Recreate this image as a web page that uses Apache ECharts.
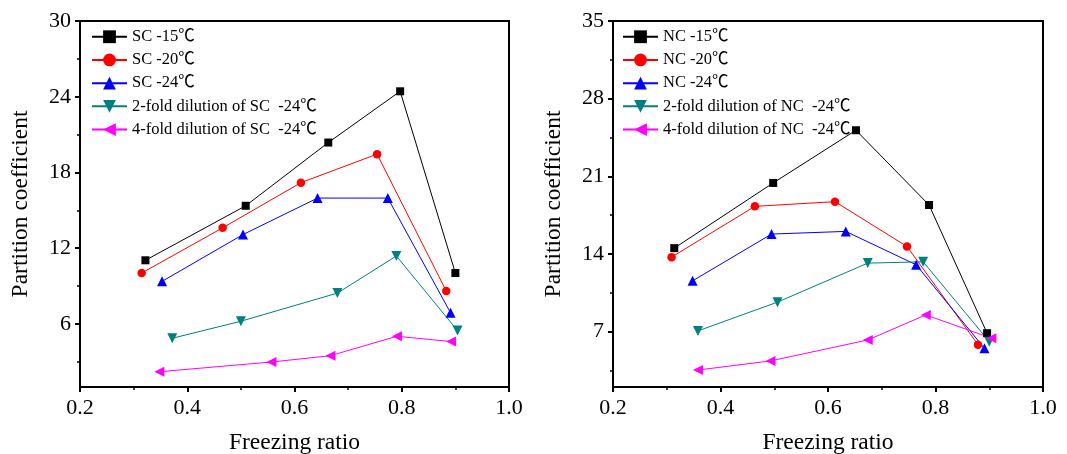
<!DOCTYPE html>
<html>
<head>
<meta charset="utf-8">
<script src="https://cdn.jsdelivr.net/npm/echarts@6/dist/echarts.min.js"></script>
<style>
html,body{margin:0;padding:0;background:#fff;}
#chart{width:1067px;height:454px;}
</style>
</head>
<body>
<div id="chart"></div>
<script>
// ---- data ----
const xTickLabels = [0.2, 0.4, 0.6, 0.8, 1.0];
const scYTicks = [6, 12, 18, 24, 30];
const scYMinor = [3, 9, 15, 21, 27];
const ncYTicks = [7, 14, 21, 28, 35];
const ncYMinor = [3.5, 10.5, 17.5, 24.5, 31.5];

const scNames = ['SC -15℃', 'SC -20℃', 'SC -24℃', '2-fold dilution of SC  -24℃', '4-fold dilution of SC  -24℃'];
const ncNames = ['NC -15℃', 'NC -20℃', 'NC -24℃', '2-fold dilution of NC  -24℃', '4-fold dilution of NC  -24℃'];

const sc15X = [0.322, 0.509, 0.663, 0.797, 0.900];
const sc15Y = [11.04, 15.36, 20.37, 24.43, 10.03];
const sc20X = [0.315, 0.466, 0.612, 0.754, 0.883];
const sc20Y = [10.03, 13.61, 17.19, 19.45, 8.60];
const sc24X = [0.353, 0.504, 0.643, 0.774, 0.891];
const sc24Y = [9.37, 13.08, 15.97, 15.97, 6.88];
const sc2fX = [0.372, 0.500, 0.680, 0.790, 0.904];
const sc2fY = [4.86, 6.21, 8.44, 11.38, 5.47];
const sc4fX = [0.348, 0.557, 0.667, 0.791, 0.892];
const sc4fY = [2.21, 2.98, 3.48, 5.02, 4.60];

const nc15X = [0.314, 0.498, 0.652, 0.788, 0.896];
const nc15Y = [14.52, 20.40, 25.15, 18.41, 6.85];
const nc20X = [0.309, 0.464, 0.613, 0.747, 0.879];
const nc20Y = [13.71, 18.29, 18.71, 14.67, 5.82];
const nc24X = [0.348, 0.495, 0.633, 0.764, 0.891];
const nc24Y = [11.57, 15.79, 16.03, 13.02, 5.49];
const nc2fX = [0.358, 0.506, 0.674, 0.777, 0.900];
const nc2fY = [7.06, 9.65, 13.17, 13.29, 6.09];
const nc4fX = [0.358, 0.493, 0.674, 0.782, 0.904];
const nc4fY = [3.53, 4.35, 6.24, 8.50, 6.40];

// ---- styling ----
const FONT = '"Liberation Serif", "Times New Roman", "Noto Sans CJK SC", serif';
const colors = ['#000000', '#ff0000', '#0000ff', '#008080', '#ff00ff'];
const symbols = ['rect', 'circle', 'triangle', 'triangle', 'triangle'];
const rotations = [0, 0, 0, 180, 90];
const sizes = [8, 8.5, 10, 10, 10];

function zip(xs, ys) { return xs.map((x, i) => [x, ys[i]]); }

const grids = [
  { left: 80, top: 21, width: 429, height: 366 },
  { left: 613, top: 21, width: 430, height: 366 }
];

function xAxis(gi) {
  return {
    type: 'value', gridIndex: gi, min: 0.2, max: 1.0, interval: 0.2,
    name: 'Freezing ratio', nameLocation: 'middle', nameGap: 44,
    nameTextStyle: { fontFamily: FONT, fontSize: 23.5, color: '#000' },
    axisLine: { show: true, onZero: false, lineStyle: { color: '#000', width: 2 } },
    axisTick: { show: true, inside: false, length: 5, lineStyle: { color: '#000', width: 2 } },
    minorTick: { show: true, splitNumber: 2, length: 3, lineStyle: { color: '#000', width: 1.5 } },
    axisLabel: { fontFamily: FONT, fontSize: 22, color: '#000', margin: 10,
      formatter: v => xTickLabels.some(t => Math.abs(t - v) < 1e-9) ? v.toFixed(1) : '' },
    splitLine: { show: false }, minorSplitLine: { show: false }
  };
}

function yAxisMain(gi, min, max, ticks) {
  return {
    type: 'value', gridIndex: gi, min: min, max: max,
    name: 'Partition coefficient', nameLocation: 'middle', nameGap: 47,
    nameTextStyle: { fontFamily: FONT, fontSize: 23.5, color: '#000' },
    axisLine: { show: true, onZero: false, lineStyle: { color: '#000', width: 2 } },
    axisTick: { show: true, inside: false, length: 5, customValues: ticks, lineStyle: { color: '#000', width: 2 } },
    axisLabel: { fontFamily: FONT, fontSize: 22, color: '#000', margin: 9, customValues: ticks },
    splitLine: { show: false }
  };
}

function yAxisMinor(gi, min, max, minors) {
  return {
    type: 'value', gridIndex: gi, min: min, max: max, position: 'left',
    axisLine: { show: false, onZero: false },
    axisTick: { show: true, inside: false, length: 3, customValues: minors, lineStyle: { color: '#000', width: 1.5 } },
    axisLabel: { show: false },
    splitLine: { show: false }
  };
}

function makeSeries(names, xs, ys, gi) {
  return names.map((n, i) => ({
    name: n, type: 'line', xAxisIndex: gi, yAxisIndex: gi * 2,
    data: zip(xs[i], ys[i]),
    symbol: symbols[i], symbolSize: sizes[i], symbolRotate: rotations[i],
    showAllSymbol: true,
    lineStyle: { color: colors[i], width: 1 },
    itemStyle: { color: colors[i], borderWidth: 0 },
    animation: false
  }));
}

function legend(gi, names, left) {
  return {
    data: names.map(n => ({ name: n })),
    orient: 'vertical', left: left, top: 28.5, padding: 0,
    itemWidth: 35, itemHeight: 16, itemGap: 6.7,
    textStyle: { fontFamily: FONT, fontSize: 16.5, color: '#000' }
  };
}

const option = {
  backgroundColor: '#fff',
  animation: false,
  grid: grids.map(g => Object.assign({ show: true, borderColor: '#000', borderWidth: 2, backgroundColor: 'transparent', containLabel: false, outerBoundsMode: 'none' }, g)),
  xAxis: [xAxis(0), xAxis(1)],
  yAxis: [
    yAxisMain(0, 1, 30, scYTicks), yAxisMinor(0, 1, 30, scYMinor),
    yAxisMain(1, 2, 35, ncYTicks), yAxisMinor(1, 2, 35, ncYMinor)
  ],
  legend: [legend(0, scNames, 91), legend(1, ncNames, 622)],
  series: [
    ...makeSeries(scNames, [sc15X, sc20X, sc24X, sc2fX, sc4fX], [sc15Y, sc20Y, sc24Y, sc2fY, sc4fY], 0),
    ...makeSeries(ncNames, [nc15X, nc20X, nc24X, nc2fX, nc4fX], [nc15Y, nc20Y, nc24Y, nc2fY, nc4fY], 1)
  ]
};

const chart = echarts.init(document.getElementById('chart'), null, { renderer: 'canvas' });
chart.setOption(option);
</script>
</body>
</html>
